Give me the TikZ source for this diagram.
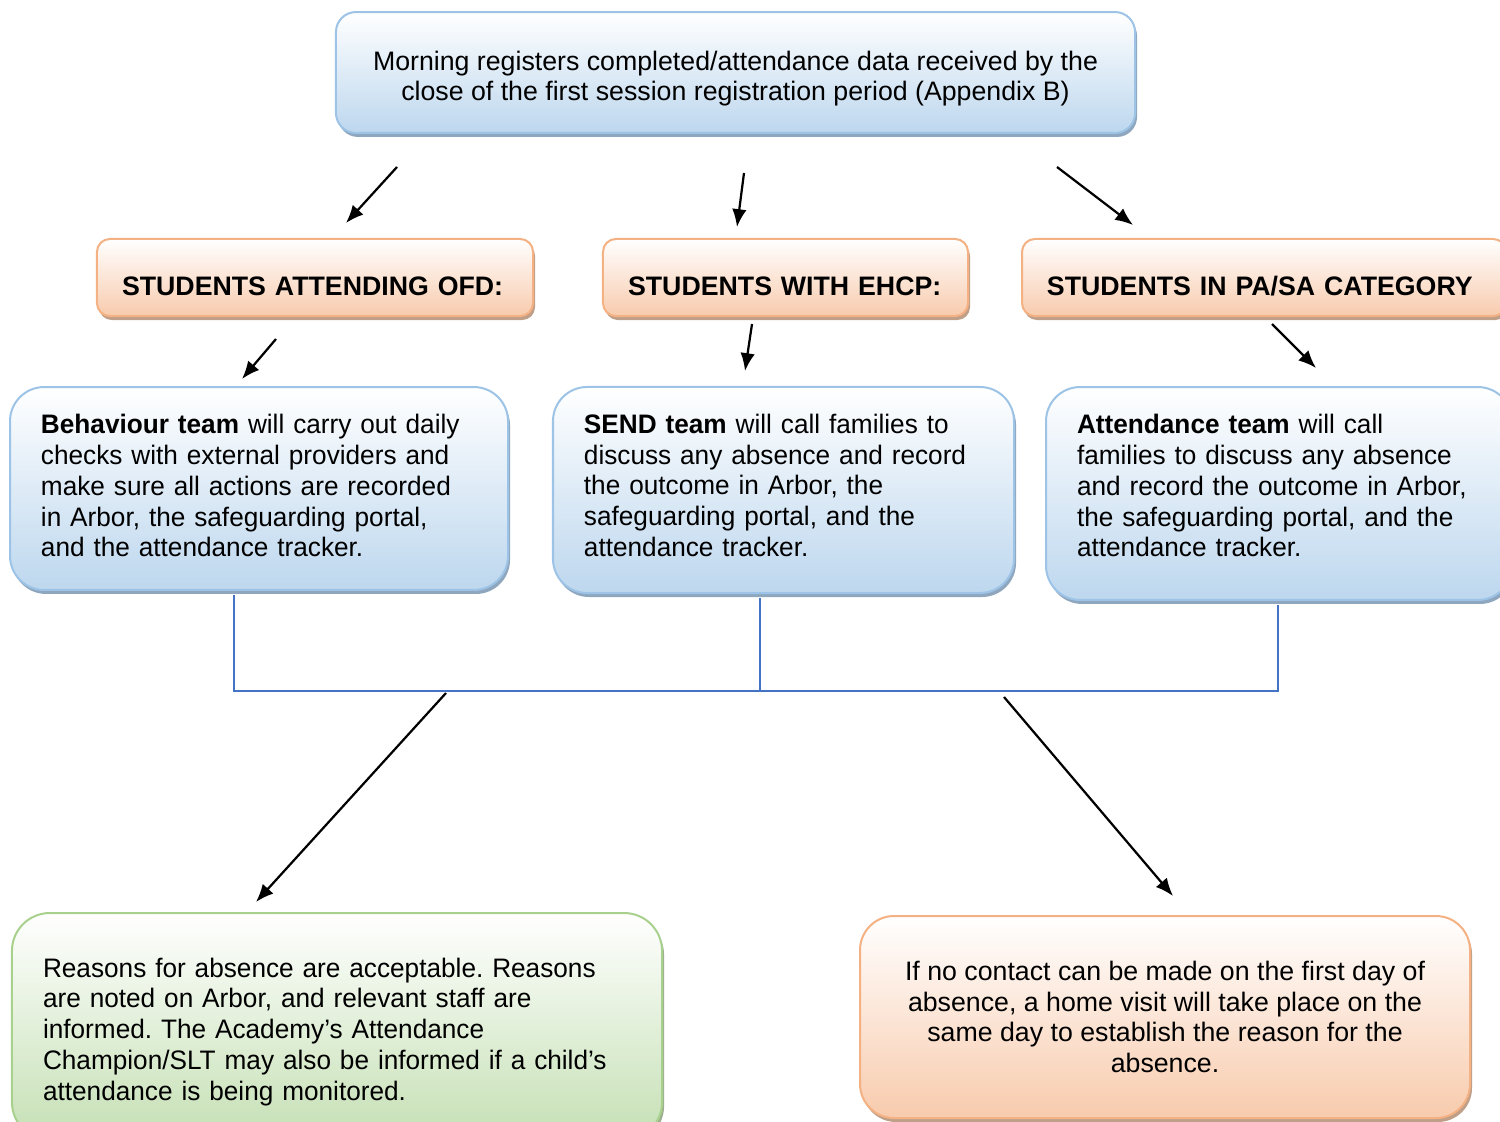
\documentclass[tikz,border=0pt]{standalone}
\usepackage{fontspec}
\setmainfont{Liberation Sans}
\newfontfamily\teamfont[Ligatures=TeX,FakeStretch=0.98]{Liberation Sans}
\usetikzlibrary{arrows.meta}
\usetikzlibrary{shadows}
\usetikzlibrary{positioning}
\definecolor{blueline}{HTML}{9DC3E6}
\definecolor{bluefill}{HTML}{BDD7EE}
\definecolor{blueshade}{HTML}{8EA7BF}
\definecolor{orangeline}{HTML}{F4B183}
\definecolor{orangefill}{HTML}{F8CBAD}
\definecolor{orangeshade}{HTML}{BF9F88}
\definecolor{greenline}{HTML}{A9D18E}
\definecolor{greenfill}{HTML}{C5E0B4}
\definecolor{greenshade}{HTML}{9DAF90}
\definecolor{joinline}{HTML}{4472C4}
\tikzset{
  box/.style={
    draw, line width=0.9pt, inner sep=0pt, align=left,
    font=\fontsize{12}{13.8}\selectfont\frenchspacing,
  },
  bluebox/.style={box, draw=blueline, top color=white, bottom color=bluefill,
    drop shadow={shadow xshift=0.9pt, shadow yshift=-1.8pt, fill=blueshade, opacity=1}},
  orangebox/.style={box, draw=orangeline, top color=white, bottom color=orangefill,
    drop shadow={shadow xshift=0.9pt, shadow yshift=-1.8pt, fill=orangeshade, opacity=1}},
  greenbox/.style={box, draw=greenline, top color=white, bottom color=greenfill,
    drop shadow={shadow xshift=0.9pt, shadow yshift=-1.8pt, fill=greenshade, opacity=1}},
}

\begin{document}
\begin{tikzpicture}[x=0.449pt,y=-0.449pt,
  head/.style={orangebox,rounded corners=5.8pt,minimum height=34.6pt,text height=16.6pt,text depth=0pt,
    font=\fontsize{12}{13.8}\selectfont\bfseries},
  team/.style={bluebox,rounded corners=15.3pt,text height=8.8pt,font=\fontsize{12}{13.8}\teamfont\frenchspacing},
  arr/.style={-{Latex[length=8pt,width=6.5pt]},line width=1pt,black},
  joinlink/.style={joinline,line width=0.5pt}]

        \clip (0,0) rectangle (1500,1122);

        \node[bluebox,rounded corners=9pt,align=flush center,text width=350pt,text height=14.2pt,
          minimum width=358.8pt,minimum height=54.3pt] (reg) at (735.5,72.5)
          {Morning registers completed/attendance data received by the\\close of the first session registration period (Appendix B)};

        \node[head,minimum width=195.8pt,text width=173.3pt] (ofd) at (315,277.5) {STUDENTS ATTENDING OFD:};
        \node[head,minimum width=163.9pt,text width=141.4pt] (ehcp) at (785.5,277.5) {STUDENTS WITH EHCP:};
        \node[head,minimum width=217.3pt,text width=194.9pt] (pasa) at (1264,277.5) {STUDENTS IN PA/SA CATEGORY};

        \node[team,minimum width=223.6pt,minimum height=91.1pt,text width=195.8pt,text depth=57.9pt] (beh) at (259,488.5)
          {\textbf{Behaviour team} will carry out daily\\checks with external providers and\\make sure all actions are recorded\\in Arbor, the safeguarding portal,\\and the attendance tracker.};
        \node[team,minimum width=207pt,minimum height=92.5pt,text width=179.2pt,text depth=59.7pt] (send) at (783.5,490)
          {\textbf{SEND team} will call families to\\discuss any absence and record\\the outcome in Arbor, the\\safeguarding portal, and the\\attendance tracker.};
        \node[team,minimum width=209.2pt,minimum height=95.6pt,text width=181.4pt,text depth=62.4pt] (att) at (1279,493.5)
          {\textbf{Attendance team} will call\\families to discuss any absence\\and record the outcome in Arbor,\\the safeguarding portal, and the\\attendance tracker.};

        \node[greenbox,rounded corners=17pt,minimum width=291.9pt,minimum height=101.9pt,text width=264pt,
          text height=13.3pt,font=\fontsize{12}{13.8}\teamfont\frenchspacing] (ok) at (337,1026.5)
          {Reasons for absence are acceptable. Reasons\\are noted on Arbor, and relevant staff are\\informed. The Academy's Attendance\\Champion/SLT may also be informed if a child's\\attendance is being monitored.};
        \node[orangebox,rounded corners=15.3pt,align=center,minimum width=273.9pt,minimum height=90.7pt] (visit) at (1165,1017)
          {If no contact can be made on the first day of\\absence, a home visit will take place on the\\same day to establish the reason for the\\absence.};

        \coordinate (a1s) at (397,167);  \coordinate (a1e) at (346,223);
        \coordinate (a2s) at (744,173);  \coordinate (a2e) at (737,227);
        \coordinate (a3s) at (1057,167); \coordinate (a3e) at (1133,225);
        \coordinate (b1s) at (276,339);  \coordinate (b1e) at (242,379);
        \coordinate (b2s) at (752,324);  \coordinate (b2e) at (745,371);
        \coordinate (b3s) at (1272,324); \coordinate (b3e) at (1316,368);
        \coordinate (c1s) at (446,693);  \coordinate (c1e) at (256,902);
        \coordinate (c2s) at (1004,697); \coordinate (c2e) at (1173,896);

        \coordinate (j1) at (234,691);
        \coordinate (j2) at (760,691);
        \coordinate (j3) at (1278,691);

        \draw[arr] (a1s) -- (a1e);
        \draw[arr] (a2s) -- (a2e);
        \draw[arr] (a3s) -- (a3e);
        \draw[arr] (b1s) -- (b1e);
        \draw[arr] (b2s) -- (b2e);
        \draw[arr] (b3s) -- (b3e);

        \draw[joinlink] ([yshift=-1.8pt]beh.south -| j1) -- (j1) -- (j3) -- ([yshift=-1.8pt]att.south -| j3);
        \draw[joinlink] ([yshift=-1.8pt]send.south -| j2) -- (j2);

        \draw[arr] (c1s) -- (c1e);
        \draw[arr] (c2s) -- (c2e);

\end{tikzpicture}
\end{document}
